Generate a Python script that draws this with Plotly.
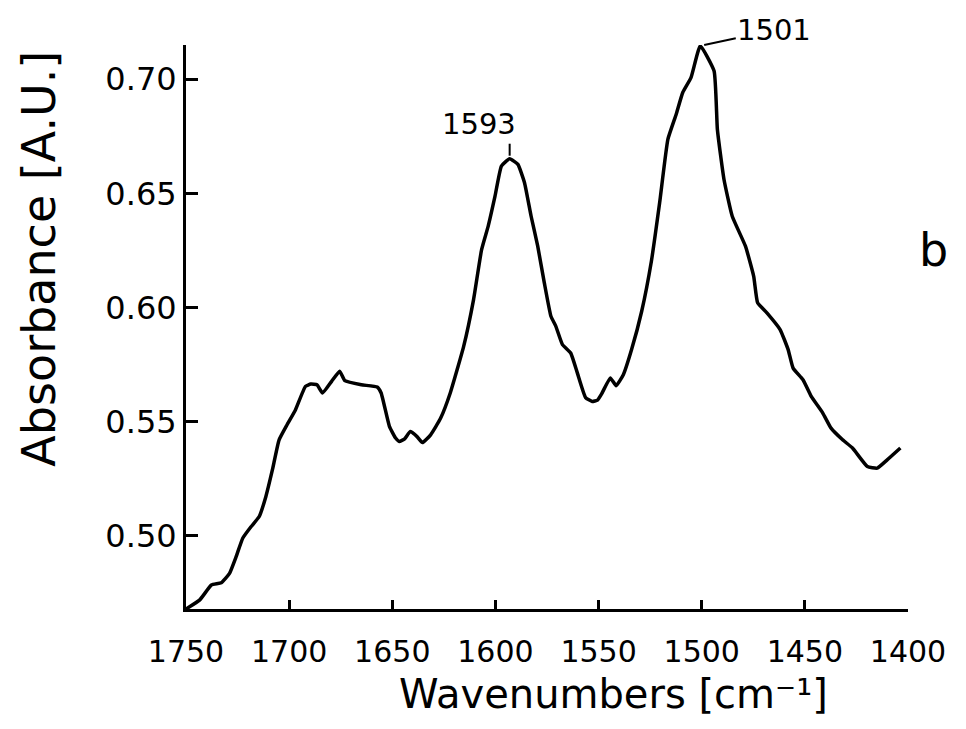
import plotly.graph_objects as go

# wavenumber (cm-1) and absorbance
wavenumbers = [
    1750, 1743.3, 1737.7, 1732.9, 1728.9, 1725.7, 1722.5, 1718.5, 1714.5, 1711.3,
    1708.1, 1704.9, 1701.0, 1696.9, 1692.1, 1689.5, 1686.5, 1683.8, 1679.4, 1675.5,
    1673.0, 1665.0, 1657.3, 1655.4, 1651.4, 1648.5, 1646.6, 1644.0, 1641.3, 1638.0,
    1635.4, 1631.4, 1626.6, 1621.9, 1615.4, 1610.6, 1606.7, 1603.5, 1600.2, 1597.1,
    1593.1, 1589.1, 1585.9, 1582.7, 1579.5, 1576.3, 1573.1, 1570.7, 1567.5, 1563.5,
    1560.3, 1556.3, 1553.1, 1550.5, 1548.3, 1544.3, 1541.5, 1538.0, 1534.0, 1529.1,
    1524.4, 1520.4, 1516.4, 1512.4, 1509.2, 1505.2, 1500.7, 1494.0, 1492.4, 1489.2,
    1485.2, 1478.8, 1474.8, 1472.9, 1468.4, 1462.0, 1458.1, 1455.7, 1450.9, 1446.9,
    1441.3, 1437.3, 1431.7, 1426.9, 1419.7, 1414.9, 1410.1, 1403.7,
]
absorbance = [
    0.468, 0.472, 0.4785, 0.4795, 0.4836, 0.4909, 0.499, 0.504, 0.5085, 0.5172,
    0.529, 0.542, 0.5487, 0.5553, 0.5655, 0.5665, 0.5662, 0.5626, 0.5677, 0.5721,
    0.568, 0.5662, 0.5652, 0.5626, 0.548, 0.543, 0.5414, 0.5425, 0.5457, 0.5435,
    0.5409, 0.5443, 0.5515, 0.5626, 0.583, 0.6035, 0.6254, 0.6357, 0.6488, 0.662,
    0.6652, 0.6627, 0.6547, 0.640, 0.6269, 0.6108, 0.5962, 0.5918, 0.5838, 0.5801,
    0.5714, 0.5606, 0.5589, 0.5595, 0.5626, 0.5692, 0.5658, 0.5706, 0.5816, 0.5984,
    0.6203, 0.6459, 0.6737, 0.6846, 0.6942, 0.7007, 0.7146, 0.7036, 0.678, 0.6561,
    0.640, 0.6269, 0.6137, 0.6021, 0.5977, 0.5904, 0.5816, 0.5735, 0.5684, 0.5611,
    0.5538, 0.5472, 0.5421, 0.5385, 0.5304, 0.5297, 0.5333, 0.5385,
]

x_ticks = [1750, 1700, 1650, 1600, 1550, 1500, 1450, 1400]
y_ticks = [0.50, 0.55, 0.60, 0.65, 0.70]

peak_labels = ["1593", "1501"]
peak_wn = [1593.1, 1500.7]
peak_abs = [0.6652, 0.7146]

FONT = "DejaVu Sans, sans-serif"

fig = go.Figure()
fig.add_trace(go.Scatter(
    x=wavenumbers,
    y=absorbance,
    mode="lines",
    line=dict(color="black", width=3.5, shape="spline", smoothing=0.4),
    showlegend=False,
    hoverinfo="skip",
))

# 1593: short vertical tick above the peak, label above-left of it
fig.add_shape(type="line", xref="x", yref="y", xsizemode="pixel", ysizemode="pixel",
              xanchor=peak_wn[0], yanchor=peak_abs[0],
              x0=0, x1=0, y0=3, y1=15, line=dict(color="black", width=2))
fig.add_annotation(x=peak_wn[0], y=peak_abs[0], text=peak_labels[0], showarrow=False,
                   xanchor="center", yanchor="bottom", xshift=-31, yshift=16,
                   font=dict(family=FONT, size=29, color="black"))

# 1501: slanted leader from the peak to the label (annotation arrows are not clipped)
fig.add_annotation(x=peak_wn[1], y=peak_abs[1], text=peak_labels[1], showarrow=True,
                   arrowhead=0, arrowwidth=2, arrowcolor="black", standoff=4,
                   ax=74, ay=-16, xanchor="center", yanchor="middle",
                   font=dict(family=FONT, size=29, color="black"))

# panel letter
fig.add_annotation(x=1.036, y=0.637, xref="paper", yref="paper", text="b",
                   xanchor="center", yanchor="middle", showarrow=False,
                   font=dict(family=FONT, size=46, color="black"))

# axis titles placed as annotations to match the original offsets
fig.add_annotation(x=-0.203, y=0.622, xref="paper", yref="paper", text="Absorbance [A.U.]",
                   textangle=-90, xanchor="center", yanchor="middle", showarrow=False,
                   font=dict(family=FONT, size=46, color="black"))
fig.add_annotation(x=0.592, y=-0.151, xref="paper", yref="paper",
                   text="Wavenumbers [cm\u207b\u00b9]", xanchor="center", yanchor="middle",
                   showarrow=False, font=dict(family=FONT, size=40, color="black"))

# the page body adds an 8px margin, so the figure is sized to fit inside the window
fig.update_layout(
    width=950, height=713,
    margin=dict(l=178, r=42, t=37, b=112),
    plot_bgcolor="white", paper_bgcolor="white",
    xaxis=dict(
        range=[1750, 1400], tickvals=x_ticks, ticks="inside", ticklen=9, tickwidth=2.5,
        tickcolor="black", showline=True, linecolor="black", linewidth=3,
        showgrid=False, zeroline=False, ticklabelstandoff=14,
        tickfont=dict(family=FONT, size=30, color="black"),
    ),
    yaxis=dict(
        range=[0.468, 0.715], tickvals=y_ticks, tickformat=".2f", ticks="inside",
        ticklen=12, tickwidth=2.5, tickcolor="black", showline=True, linecolor="black",
        linewidth=3, showgrid=False, zeroline=False,
        tickfont=dict(family=FONT, size=32, color="black"),
    ),
)

fig.write_html("out.html")
